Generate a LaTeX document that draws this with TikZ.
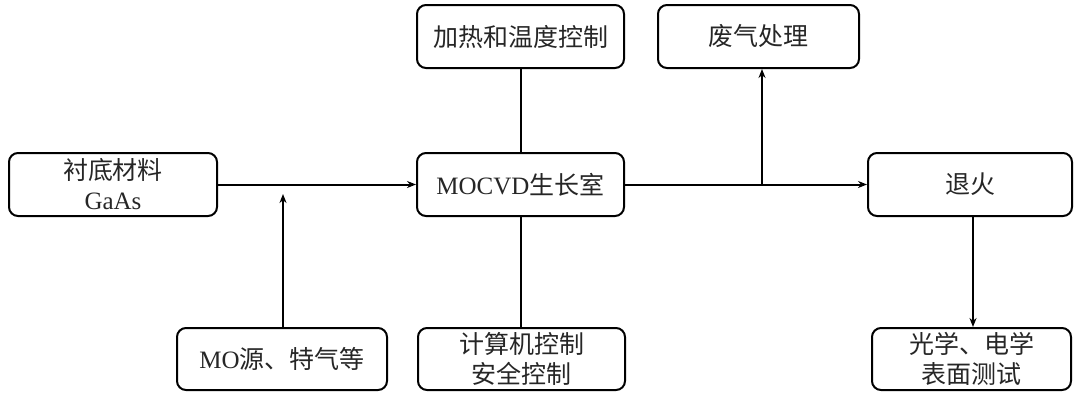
\documentclass[tikz,border=0pt]{standalone}
\usepackage{fontspec}
\setmainfont{Liberation Serif}
\newfontfamily\cjk{Noto Sans CJK SC}
\usetikzlibrary{arrows.meta}
\begin{document}
\begin{tikzpicture}[x=1pt,y=-1pt,
  box/.style={draw, line width=2pt, rounded corners=9pt, align=center, inner sep=0pt,
    font=\fontsize{25}{30}\selectfont, text=black!85},
  conn/.style={line width=2pt},
  arr/.style={line width=2pt, -{Stealth[length=9pt,width=7pt]}}]
\useasboundingbox (0,0) rectangle (1077,394);
\node[box, minimum width=208pt, minimum height=63pt] (sub) at (113,184.5) {{\cjk 衬底材料}\\GaAs};
\node[box, minimum width=207pt, minimum height=63pt] (mo) at (520.5,184.5) {MOCVD{\cjk 生长室}};
\node[box, minimum width=207pt, minimum height=63pt] (heat) at (520.5,36.5) {{\cjk 加热和温度控制}};
\node[box, minimum width=201pt, minimum height=63pt] (gas) at (758.5,36.5) {{\cjk 废气处理}};
\node[box, minimum width=204pt, minimum height=63pt] (ann) at (970,184.5) {{\cjk 退火}};
\node[box, minimum width=199pt, minimum height=62pt] (test) at (971.5,359) {{\cjk 光学、电学}\\{\cjk 表面测试}};
\node[box, minimum width=210pt, minimum height=62pt] (src) at (282,359) {MO{\cjk 源、特气等}};
\node[box, minimum width=207pt, minimum height=62pt] (pc) at (521.5,359) {{\cjk 计算机控制}\\{\cjk 安全控制}};
\coordinate (srcend) at (283,194);
\coordinate (j) at (762,184.5);
\draw[arr] (sub) -- (mo);
\draw[arr] (src.north -| srcend) -- (srcend);
\draw[conn] (heat) -- (mo);
\draw[conn] (pc.north -| mo) -- (mo);
\draw[arr] (mo) -- (ann);
\draw[arr] (j) -- (j |- gas.south);
\draw[arr] (ann.south -| 973,0) -- (test.north -| 973,0);
\end{tikzpicture}
\end{document}
